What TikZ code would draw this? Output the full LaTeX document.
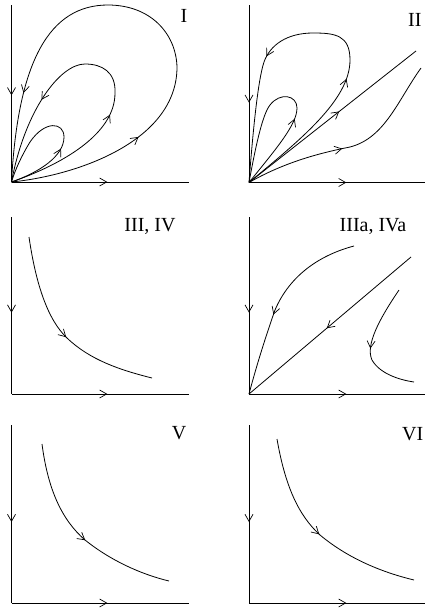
\documentclass[tikz,border=0pt]{standalone}
\usepackage{fontspec}
\setmainfont{Liberation Serif}
\usetikzlibrary{arrows.meta,decorations.markings}
\tikzset{
  barb/.tip={Straight Barb[length=7pt,width=8pt,line width=0.7pt]},
  curve/.style={line width=0.8pt},
  axisline/.style={line width=0.9pt},
  am/.style={postaction={decorate},decoration={markings,mark=at position #1 with {\arrow{barb}}}},
  amm/.style 2 args={postaction={decorate},decoration={markings,
     mark=at position #1 with {\arrow{barb}},
     mark=at position #2 with {\arrow{barb}}}},
  lbl/.style={font=\fontsize{20}{24}\selectfont, inner sep=0pt, anchor=base},
  lblw/.style={font=\fontsize{20}{24}\selectfont, inner sep=0pt, anchor=base west}
}
\begin{document}
\begin{tikzpicture}[x=1pt,y=-1pt]
\useasboundingbox (0,0) rectangle (424,608);
% origins and axis ends
\coordinate (O1) at (11.5,182);  \coordinate (T1) at (11.5,5);   \coordinate (R1) at (189,182);
\coordinate (O2) at (249,182.5); \coordinate (T2) at (249,5);    \coordinate (R2) at (426,182.5);
\coordinate (O3) at (11.5,394);  \coordinate (T3) at (11.5,217); \coordinate (R3) at (189,394);
\coordinate (O4) at (249,394);   \coordinate (T4) at (249,217);  \coordinate (R4) at (426,394);
\coordinate (O5) at (11.5,603);  \coordinate (T5) at (11.5,425); \coordinate (R5) at (189,603);
\coordinate (O6) at (249,603);   \coordinate (T6) at (249,425);  \coordinate (R6) at (426,603);
% axes
\draw[axisline, am=0.51] (T1) -- (O1);
\draw[axisline, am=0.54] (O1) -- (R1);
\draw[axisline, am=0.55] (T2) -- (O2);
\draw[axisline, am=0.55] (O2) -- (R2);
\draw[axisline, am=0.54] (T3) -- (O3);
\draw[axisline, am=0.54] (O3) -- (R3);
\draw[axisline, am=0.54] (T4) -- (O4);
\draw[axisline, am=0.55] (O4) -- (R4);
\draw[axisline, am=0.545] (T5) -- (O5);
\draw[axisline, am=0.54] (O5) -- (R5);
\draw[axisline, am=0.545] (T6) -- (O6);
\draw[axisline, am=0.55] (O6) -- (R6);
% labels
\node[lbl] (L1) at (184,22) {I};
\node[lblw] (L2) at (408,26) {II};
\node[lbl] (L3) at (150,231.5) {III, IV};
\node[lbl] (L4) at (373,231.5) {IIIa, IVa};
\node[lbl] (L5) at (179,439) {V};
\node[lblw] (L6) at (402,440) {VI};
% Panel I
\draw[curve, amm={0.25}{0.835}] (O1) .. controls (80,175) and (177,140) .. (177,67)
  .. controls (176,33) and (150,5) .. (108,5)
  .. controls (50,5) and (18,60) .. (O1);
\draw[curve, amm={0.36}{0.74}] (O1) .. controls (60,165) and (115,135) .. (115,93)
  .. controls (116,72) and (102,64) .. (85,64)
  .. controls (60,64) and (25,110) .. (O1);
\draw[curve, am=0.37] (O1) .. controls (40,172) and (64,156) .. (64,137)
  .. controls (64,122) and (45,120) .. (30,142)
  .. controls (22,155) and (15,170) .. (O1);
% Panel II
\draw[curve, amm={0.36}{0.68}] (O2) .. controls (300,140) and (350,100) .. (350,60)
  .. controls (350,35) and (335,33) .. (313,33)
  .. controls (287,33) and (270,45) .. (264,62)
  .. controls (258,80) and (253,130) .. (O2);
\draw[curve, am=0.38] (O2) .. controls (275,150) and (297,125) .. (297,108)
  .. controls (297,95) and (280,92) .. (270,105)
  .. controls (262,115) and (255,150) .. (O2);
\coordinate (D2) at (416,51);
\draw[curve, am=0.54] (O2) -- (D2);
\coordinate (E2) at (421,68);
\draw[curve, am=0.46] (O2) .. controls (285,162) and (320,153) .. (350,147)
  .. controls (385,138) and (398,100) .. (E2);
% Panel III, IV
\coordinate (A3) at (29,237); \coordinate (B3) at (152,378);
\draw[curve, am=0.53] (A3) .. controls (36,285) and (48,320) .. (67,338)
  .. controls (90,360) and (120,370) .. (B3);
% Panel IIIa, IVa
\coordinate (D4) at (411,257);
\draw[curve, am=0.52] (D4) -- (O4);
\coordinate (A4) at (354,246);
\draw[curve, am=0.57] (A4) .. controls (320,255) and (290,275) .. (275,310)
  .. controls (268,330) and (258,360) .. (O4);
\coordinate (F4) at (399,290); \coordinate (G4) at (414,382);
\draw[curve, am=0.52] (F4) .. controls (380,318) and (365,345) .. (372,360)
  .. controls (380,374) and (400,380) .. (G4);
% Panel V
\coordinate (A5) at (42,444); \coordinate (B5) at (169,581);
\draw[curve, am=0.535] (A5) .. controls (48,490) and (62,520) .. (85,540)
  .. controls (110,560) and (140,574) .. (B5);
% Panel VI
\coordinate (A6) at (277,439); \coordinate (B6) at (414,580);
\draw[curve, am=0.5] (A6) .. controls (285,485) and (298,515) .. (320,535)
  .. controls (350,560) and (385,573) .. (B6);
\end{tikzpicture}
\end{document}
